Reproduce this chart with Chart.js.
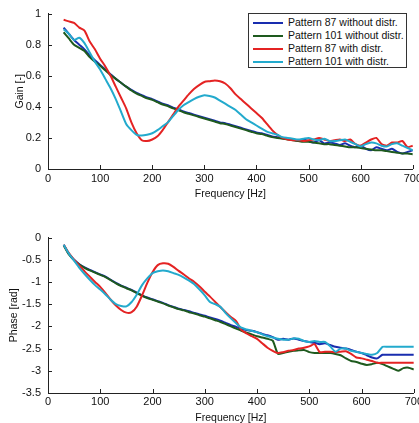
<!DOCTYPE html>
<html>
<head>
<meta charset="utf-8">
<script src="https://cdn.jsdelivr.net/npm/chart.js@4.4.1/dist/chart.umd.min.js"></script>
<style>
  body { margin: 0; background: #fff; overflow: hidden; width: 419px; height: 423px; position: relative; }
  .box { position: absolute; left: 0; width: 425px; height: 200px; }
  #legend { position: absolute; left: 248px; top: 13px; width: 159px; height: 55px; border: 1px solid #333;
            background: #fff; font: 10.5px "Liberation Sans", Arial, sans-serif; color: #111; padding-top: 2px; box-sizing: border-box; }
  #legend div { height: 13px; line-height: 13px; white-space: nowrap; }
  #legend span { display: inline-block; width: 30px; height: 2px; vertical-align: middle; margin: 0 5px 0 4px; }
</style>
</head>
<body>
<div class="box" style="top:0"><canvas id="gainChart"></canvas></div>
<div class="box" style="top:224px"><canvas id="phaseChart"></canvas></div>
<div id="legend"></div>
<script>
// frequency grid shared by all curves [Hz]
const freq = [30,40,50,60,70,80,90,100,110,120,130,140,150,160,170,180,190,200,210,220,230,240,250,260,270,280,290,300,
  310,320,330,340,350,360,370,380,390,400,410,420,430,440,450,460,470,480,490,500,510,520,530,540,550,560,570,580,590,600,
  610,620,630,640,650,660,670,680,690,700];

const seriesNames = ['Pattern 87 without distr.', 'Pattern 101 without distr.', 'Pattern 87 with distr.', 'Pattern 101 with distr.'];
const seriesColors = ['rgb(25,45,175)', 'rgb(30,90,30)', 'rgb(228,35,35)', 'rgb(35,170,205)'];

// gain [-]
const gain87 = [.91,.87,.83,.80,.77,.73,.70,.67,.64,.61,.58,.555,.53,.51,.49,.475,.46,.45,.435,.42,.41,.395,.385,.37,.36,.35,.34,.33,
  .32,.31,.30,.295,.285,.275,.265,.255,.245,.235,.23,.22,.21,.205,.20,.195,.19,.18,.19,.18,.17,.185,.165,.17,.165,.155,.165,.15,.14,.15,
  .13,.12,.14,.13,.12,.13,.11,.10,.11,.12];
const gain101 = [.88,.84,.80,.78,.76,.72,.69,.665,.635,.605,.58,.555,.53,.505,.485,.47,.455,.445,.43,.415,.405,.39,.38,.365,.355,.345,.335,.325,
  .315,.305,.295,.29,.28,.27,.26,.25,.24,.23,.225,.215,.205,.20,.195,.19,.185,.18,.175,.175,.17,.165,.16,.16,.155,.15,.145,.14,.14,.135,
  .13,.125,.12,.12,.115,.11,.105,.10,.10,.095];
const gain87d = [.96,.95,.94,.91,.89,.82,.77,.71,.66,.60,.53,.46,.39,.30,.23,.185,.18,.19,.21,.25,.30,.35,.40,.44,.48,.515,.54,.56,
  .565,.57,.565,.55,.52,.48,.45,.42,.39,.36,.33,.29,.25,.22,.20,.19,.185,.185,.18,.185,.19,.20,.19,.18,.185,.19,.18,.19,.16,.15,
  .17,.19,.20,.16,.15,.17,.17,.18,.14,.15];
const gain101d = [.90,.87,.83,.845,.81,.75,.69,.64,.58,.52,.45,.37,.29,.25,.22,.215,.22,.23,.25,.275,.30,.34,.38,.41,.43,.45,.465,.475,
  .47,.46,.44,.42,.40,.38,.35,.32,.30,.28,.26,.24,.23,.22,.205,.20,.195,.19,.195,.20,.19,.185,.195,.18,.18,.185,.19,.175,.16,.145,
  .16,.17,.165,.15,.145,.16,.165,.15,.135,.12];

// phase [rad]
const phase87 = [-.16,-.37,-.50,-.60,-.67,-.73,-.78,-.83,-.88,-.95,-1.02,-1.08,-1.13,-1.18,-1.24,-1.30,-1.35,-1.39,-1.43,-1.47,-1.52,-1.56,-1.60,-1.63,-1.66,-1.70,-1.73,-1.76,
  -1.80,-1.83,-1.87,-1.92,-1.97,-2.01,-2.06,-2.08,-2.10,-2.13,-2.17,-2.20,-2.24,-2.30,-2.28,-2.30,-2.27,-2.30,-2.33,-2.35,-2.37,-2.40,-2.38,-2.42,-2.46,-2.48,-2.50,-2.53,-2.57,-2.60,
  -2.65,-2.70,-2.72,-2.64,-2.64,-2.64,-2.64,-2.64,-2.64,-2.64];
const phase101 = [-.18,-.38,-.51,-.61,-.68,-.74,-.79,-.84,-.89,-.96,-1.03,-1.09,-1.14,-1.19,-1.25,-1.31,-1.36,-1.40,-1.44,-1.48,-1.53,-1.57,-1.61,-1.64,-1.68,-1.71,-1.75,-1.78,
  -1.82,-1.86,-1.90,-1.95,-2.00,-2.05,-2.10,-2.14,-2.18,-2.22,-2.25,-2.28,-2.32,-2.62,-2.60,-2.57,-2.55,-2.54,-2.53,-2.58,-2.60,-2.60,-2.60,-2.60,-2.62,-2.65,-2.72,-2.78,-2.80,-2.84,
  -2.87,-2.85,-2.82,-2.85,-2.90,-2.95,-3.00,-2.94,-2.93,-2.97];
const phase87d = [-.16,-.35,-.50,-.63,-.76,-.88,-1.00,-1.11,-1.25,-1.40,-1.53,-1.63,-1.69,-1.68,-1.55,-1.30,-1.02,-.78,-.62,-.58,-.59,-.66,-.75,-.83,-.92,-1.00,-1.10,-1.22,
  -1.33,-1.45,-1.57,-1.68,-1.79,-1.88,-2.08,-2.16,-2.22,-2.28,-2.38,-2.48,-2.55,-2.60,-2.58,-2.55,-2.53,-2.50,-2.48,-2.45,-2.40,-2.58,-2.57,-2.57,-2.58,-2.57,-2.56,-2.62,-2.70,-2.72,
  -2.75,-2.78,-2.82,-2.82,-2.82,-2.82,-2.82,-2.82,-2.82,-2.82];
const phase101d = [-.16,-.36,-.52,-.68,-.82,-.95,-1.07,-1.17,-1.28,-1.40,-1.50,-1.54,-1.55,-1.45,-1.28,-1.07,-.92,-.80,-.76,-.74,-.76,-.80,-.84,-.90,-.97,-1.05,-1.17,-1.30,
  -1.45,-1.50,-1.56,-1.70,-1.82,-1.93,-2.03,-2.07,-2.10,-2.13,-2.18,-2.22,-2.25,-2.28,-2.30,-2.30,-2.27,-2.28,-2.33,-2.35,-2.33,-2.35,-2.35,-2.45,-2.57,-2.50,-2.50,-2.55,-2.57,-2.60,
  -2.62,-2.64,-2.60,-2.46,-2.46,-2.46,-2.46,-2.46,-2.46,-2.46];

const font = "'Liberation Sans', Arial, sans-serif";

function makeSets(lists) {
  return lists.map((vals, i) => ({
    label: seriesNames[i],
    data: freq.map((f, k) => ({ x: f, y: vals[k] })),
    borderColor: seriesColors[i],
    borderWidth: 2,
    pointRadius: 0,
    tension: 0.2,
    fill: false,
    order: 3 - i   // later series on top, like matlab
  }));
}

// small inward tick marks (matlab style)
const inwardTicks = {
  id: 'inwardTicks',
  afterDraw(chart) {
    const ctx = chart.ctx, a = chart.chartArea;
    const xs = chart.scales.x, ys = chart.scales.y;
    ctx.save();
    ctx.strokeStyle = '#222';
    ctx.lineWidth = 1;
    ctx.beginPath();
    xs.ticks.forEach(t => {
      const px = Math.round(xs.getPixelForValue(t.value)) + 0.5;
      ctx.moveTo(px, a.bottom); ctx.lineTo(px, a.bottom - 4);
    });
    ys.ticks.forEach(t => {
      const py = Math.round(ys.getPixelForValue(t.value)) + 0.5;
      ctx.moveTo(a.left, py); ctx.lineTo(a.left + 4, py);
    });
    ctx.stroke();
    ctx.restore();
  }
};

// matlab-like tick text: 1, 0.8, -0.5, -3
const shortLabel = v => String(Number(v.toFixed(2)));

function makeChart(id, lists, yMin, yMax, yStep, yTitle, cfg) {
  return new Chart(document.getElementById(id), {
    type: 'line',
    data: { datasets: makeSets(lists) },
    plugins: [inwardTicks],
    options: {
      responsive: true,
      maintainAspectRatio: false,
      animation: false,
      layout: { padding: { top: 9, left: 0, right: 0, bottom: 0 } },
      plugins: { legend: { display: false }, tooltip: { enabled: false } },
      scales: {
        x: {
          type: 'linear', min: 0, max: 700,
          ticks: { stepSize: 100, color: '#111', font: { family: font, size: 11 }, padding: cfg.xTickPad, maxRotation: 0, callback: shortLabel },
          grid: { drawOnChartArea: false, drawTicks: false },
          border: { color: '#222', width: 1 },
          title: { display: true, text: 'Frequency [Hz]', color: '#111', font: { family: font, size: 10.5 }, padding: { top: cfg.xTitlePad, bottom: 0 } },
          afterFit: s => { s.height = 31; }
        },
        y: {
          min: yMin, max: yMax,
          ticks: { stepSize: yStep, color: '#111', font: { family: font, size: 11 }, padding: 7, callback: shortLabel },
          grid: { drawOnChartArea: false, drawTicks: false },
          border: { color: '#222', width: 1 },
          title: { display: true, text: yTitle, color: '#111', font: { family: font, size: 10.5 }, padding: { top: cfg.yTitlePad, bottom: 0 } },
          afterFit: s => { s.width = 48; }
        }
      }
    }
  });
}

const gainChart = makeChart('gainChart', [gain87, gain101, gain87d, gain101d], 0, 1, 0.2, 'Gain [-]',
  { xTickPad: 3, xTitlePad: 2, yTitlePad: 14 });
const phaseChart = makeChart('phaseChart', [phase87, phase101, phase87d, phase101d], -3.5, 0, 0.5, 'Phase [rad]',
  { xTickPad: 2, xTitlePad: 4, yTitlePad: 8 });

// legend inside the gain plot
const legend = document.getElementById('legend');
gainChart.data.datasets.forEach(ds => {
  const row = document.createElement('div');
  row.innerHTML = '<span style="background:' + ds.borderColor + '"></span>' + ds.label;
  legend.appendChild(row);
});
</script>
</body>
</html>
